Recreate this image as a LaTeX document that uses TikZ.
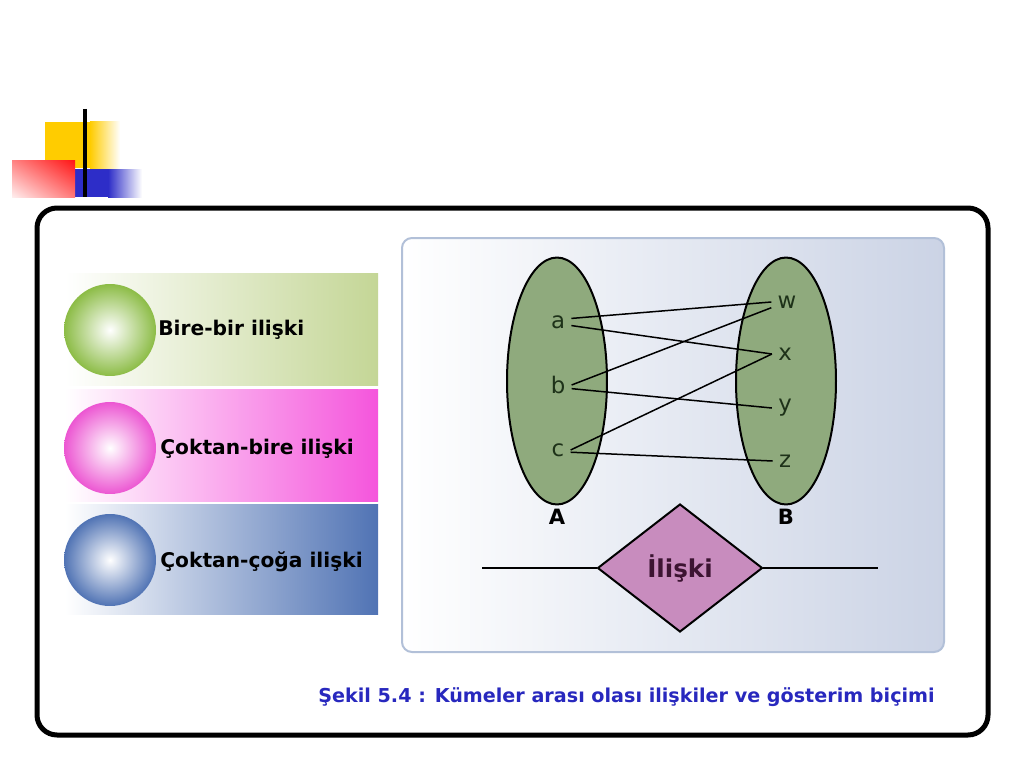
\documentclass[tikz,border=0pt]{standalone}
\usepackage{fontspec}
\setmainfont{DejaVu Sans}
\usetikzlibrary{positioning, shapes.geometric, shadings}
\definecolor{sari}{RGB}{255,204,0}
\definecolor{kirmizi}{RGB}{255,20,20}
\definecolor{koyumavi}{RGB}{45,45,200}
\definecolor{yesilbant}{RGB}{196,214,150}
\definecolor{yesiltop}{RGB}{140,188,70}
\definecolor{pembe}{RGB}{245,85,220}
\definecolor{pembetop}{RGB}{236,86,210}
\definecolor{mavibant}{RGB}{80,115,180}
\definecolor{kume}{RGB}{143,170,125}
\definecolor{iliski}{RGB}{200,140,190}
\definecolor{panel}{RGB}{203,211,229}
\definecolor{panelkenar}{RGB}{178,192,216}
\definecolor{harf}{RGB}{30,50,25}
\definecolor{baslik}{RGB}{40,40,190}

\begin{document}
\begin{tikzpicture}[x=0.02cm, y=-0.02cm,
    harfst/.style={inner sep=0.12cm, text=harf, font=\fontsize{13}{15}\selectfont},
    kumest/.style={ellipse, draw, line width=0.04cm, fill=kume,
                   minimum width=2cm, minimum height=4.94cm},
    topst/.style={circle, minimum size=1.84cm, shading=radial, inner color=white},
    bantyazi/.style={anchor=west, inner sep=0, font=\bfseries\fontsize{11.5}{14}\selectfont}]
  \useasboundingbox (0,0) rectangle (1024,767);
  \fill[white] (0,0) rectangle (1024,767);

  % kose susu
  \fill[sari] (45,122) rectangle (90,168);
  \shade[left color=sari, right color=white] (90,122) rectangle (120,168);
  \fill[koyumavi] (75,169) rectangle (108,197);
  \shade[left color=koyumavi, right color=white] (108,169) rectangle (142,197);
  \shade[upper right=kirmizi, upper left={rgb,255:red,255;green,130;blue,130},
         lower right={rgb,255:red,255;green,120;blue,120},
         lower left={rgb,255:red,255;green,238;blue,238}] (12,160) rectangle (75,197);
  \draw[line width=0.07cm] (85,109) -- (85,197);

  % cerceve
  \draw[line width=0.1cm, rounded corners=0.4cm] (37,208) rectangle (988,735);

  % sol bantlar
  \shade[left color=white, right color=yesilbant] (65,273) rectangle (378,385);
  \shade[left color=white, right color=pembe] (65,389) rectangle (378,501);
  \shade[left color=white, right color=mavibant] (65,504) rectangle (378,614);

  \node[topst, outer color=yesiltop] (top1) at (110,330) {};
  \node[topst, outer color=pembetop] (top2) at (110,448) {};
  \node[topst, outer color=mavibant] (top3) at (110,560) {};

  \node[bantyazi] (yazi1) at (158,330) {Bire-bir ilişki};
  \node[bantyazi] (yazi2) at (160,449) {Çoktan-bire ilişki};
  \node[bantyazi] (yazi3) at (160,562) {Çoktan-çoğa ilişki};

  % sag panel
  \draw[panelkenar, line width=0.04cm, rounded corners=0.2cm,
        left color=white, right color=panel] (402,238) rectangle (944,652);

  \node[kumest] (kumeA) at (557,381) {};
  \node[kumest] (kumeB) at (786,381) {};
  \node[below=0.06cm of kumeA, inner sep=0, font=\bfseries\fontsize{12}{14}\selectfont] (adA) {A};
  \node[below=0.06cm of kumeB, inner sep=0, font=\bfseries\fontsize{12}{14}\selectfont] (adB) {B};

  \node[harfst] (a) at (558,322) {a};
  \node[harfst] (b) at (558,385) {b};
  \node[harfst] (c) at (558,450) {c};
  \node[harfst] (w) at (787,302) {w};
  \node[harfst] (x) at (785,354) {x};
  \node[harfst] (y) at (785,408) {y};
  \node[harfst] (z) at (785,461) {z};

  % eslemeler
  \draw[line width=0.03cm] (a.15) -- (w.west);
  \draw[line width=0.03cm] (a.-15) -- (x.west);
  \draw[line width=0.03cm] (b.east) -- (w.200);
  \draw[line width=0.03cm] (b.-15) -- (y.west);
  \draw[line width=0.03cm] (c.east) -- (x.west);
  \draw[line width=0.03cm] (c.-10) -- (z.west);

  % iliski baklavasi
  \node[diamond, draw, fill=iliski, line width=0.04cm, aspect=1.29, inner sep=0,
        minimum width=3.3cm, minimum height=2.56cm, text={rgb,255:red,60;green,20;blue,50},
        font=\bfseries\fontsize{14}{16}\selectfont] (rel) at (680,568) {İlişki};
  \coordinate (solUc) at (482,568);
  \coordinate (sagUc) at (878,568);
  \draw[line width=0.03cm] (solUc) -- (rel.west);
  \draw[line width=0.03cm] (rel.east) -- (sagUc);

  \node[anchor=west, inner sep=0, text=baslik, font=\bfseries\fontsize{10.9}{13}\selectfont]
       (sekil) at (318,697) {Şekil 5.4 : Kümeler arası olası ilişkiler ve gösterim biçimi};
\end{tikzpicture}
\end{document}
